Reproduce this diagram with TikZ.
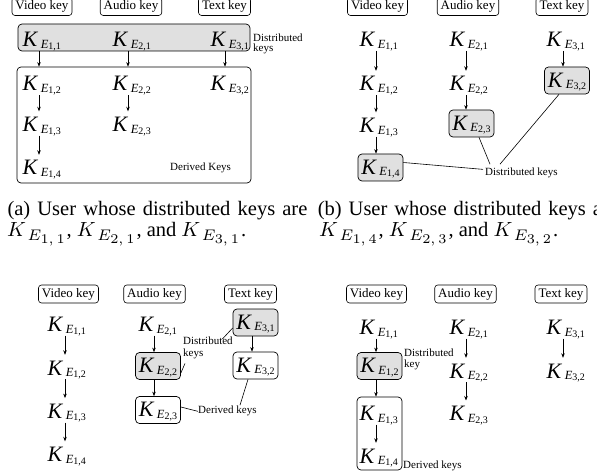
\RequirePackage{fix-cm}
\documentclass[tikz,border=0pt]{standalone}
\usepackage{graphicx}
\usepackage[no-math]{fontspec}
\setmainfont{Liberation Serif}
\usetikzlibrary{arrows.meta,calc}
\DeclareMathSizes{10}{10}{7.5}{6.5}
\definecolor{keygray}{gray}{0.88}
\newcommand{\KE}[2]{\fontsize{22}{22}\selectfont\textit{K}\kern2.5pt\raisebox{-1.6pt}{\fontsize{12.5}{12.5}\selectfont\textit{E}\raisebox{-1pt}{\fontsize{10}{10}\selectfont #1,#2}}}
\newcommand{\KM}[2]{K_{\,E_{#1,\,#2}}}
\tikzset{
 key/.style={anchor=base west, inner sep=1pt, text height=19pt, text depth=3pt},
 kbox/.style={draw, rounded corners=4pt, minimum width=45pt, minimum height=27pt, inner sep=1pt, text height=14.6pt, text depth=1pt, line width=0.7pt},
 gk/.style={kbox, fill=keygray},
 grp/.style={draw, rounded corners=4pt, line width=0.7pt, inner sep=0pt},
 lab/.style={draw, rounded corners=3pt, inner xsep=3.5pt, inner ysep=3pt, text height=9pt, text depth=3pt, font=\fontsize{13}{13}\selectfont, line width=0.6pt},
 note/.style={inner sep=0pt, font=\fontsize{11}{10.5}\selectfont, align=left},
 arr/.style={-{Stealth[length=4.5pt,width=3.5pt]}, line width=0.6pt},
 conn/.style={line width=0.6pt},
 captext/.style={anchor=base west, inner sep=0pt, font=\fontsize{10}{12}\selectfont},
}
\begin{document}
\begin{tikzpicture}[x=1pt,y=-1pt]
\useasboundingbox (0,0) rectangle (597,473);
% ---------------- (a)
\node[grp, fill=keygray, minimum width=232pt, minimum height=27pt] (ga) at (134,37.5) {};
\node[grp, minimum width=234pt, minimum height=116pt] (da) at (134,125) {};
\node[lab] (av) at (42,6.5) {Video key};
\node[lab] (aa) at (131,6.5) {Audio key};
\node[lab] (at) at (224.5,6.5) {Text key};
\node[key] (a11) at (21.5,46.7) {\KE{1}{1}};
\node[key] (a21) at (111.5,46.7) {\KE{2}{1}};
\node[key] (a31) at (209.5,46.7) {\KE{3}{1}};
\node[key] (a12) at (21.5,91) {\KE{1}{2}};
\node[key] (a22) at (111.5,91) {\KE{2}{2}};
\node[key] (a32) at (209.5,91) {\KE{3}{2}};
\node[key] (a13) at (21.5,131.5) {\KE{1}{3}};
\node[key] (a23) at (111.5,131.5) {\KE{2}{3}};
\node[key] (a14) at (21.5,175) {\KE{1}{4}};
\coordinate (ca1) at (39,0);
\coordinate (ca2) at (128,0);
\coordinate (ca3) at (225,0);
\draw[arr] (ga.south -| ca1) -- (da.north -| ca1);
\draw[arr] (ga.south -| ca2) -- (da.north -| ca2);
\draw[arr] (ga.south -| ca3) -- (da.north -| ca3);
\draw[arr] (a12.south -| ca1) -- (a13.north -| ca1);
\draw[arr] (a13.south -| ca1) -- (a14.north -| ca1);
\draw[arr] (a22.south -| ca2) -- (a23.north -| ca2);
\node[note, anchor=north west] (adist) at (253,33.5) {Distributed\\keys};
\node[note, anchor=base west] (ader) at (170,170.5) {Derived Keys};
% ---------------- (b)
\node[lab] (bv) at (377.5,6.5) {Video key};
\node[lab] (ba) at (468,6.5) {Audio key};
\node[lab] (bt) at (562,6.5) {Text key};
\node[key] (b11) at (358.5,46.7) {\KE{1}{1}};
\node[key] (b12) at (358.5,91) {\KE{1}{2}};
\node[key] (b13) at (358.5,132.5) {\KE{1}{3}};
\node[gk] (b14) at (380.5,167.5) {\KE{1}{4}};
\node[key] (b21) at (448.5,46.7) {\KE{2}{1}};
\node[key] (b22) at (448.5,91) {\KE{2}{2}};
\node[gk] (b23) at (471.5,123.5) {\KE{2}{3}};
\node[key] (b31) at (545.5,46.7) {\KE{3}{1}};
\node[gk] (b32) at (567,80.5) {\KE{3}{2}};
\coordinate (cb1) at (376,0);
\coordinate (cb2) at (466,0);
\coordinate (cb3) at (563,0);
\draw[arr] (b11.south -| cb1) -- (b12.north -| cb1);
\draw[arr] (b12.south -| cb1) -- (b13.north -| cb1);
\draw[arr] (b13.south -| cb1) -- (b14.north -| cb1);
\draw[arr] (b21.south -| cb2) -- (b22.north -| cb2);
\draw[arr] (b22.south -| cb2) -- (b23.north -| cb2);
\draw[arr] (b31.south -| cb3) -- (b32.north -| cb3);
\node[note, anchor=base west] (bdk) at (485,176) {Distributed keys};
\draw[conn] ([yshift=5pt]b14.east) -- ([xshift=-2pt,yshift=4pt]bdk.west);
\draw[conn] ([xshift=7.5pt]b23.south) -- ([xshift=5pt,yshift=4pt]bdk.north west);
\draw[conn] ([xshift=-8pt]b32.south) -- ([xshift=15pt,yshift=4pt]bdk.north west);
% ---------------- captions
\node[captext] (capa1) at (7.3,216) {\scalebox{2.05}{\makebox[146.3pt][s]{(a) User whose distributed keys are}}};
\node[captext] (capa2) at (7,236.7) {\scalebox{2.05}{$\KM{1}{1}$, $\KM{2}{1}$, and $\KM{3}{1}$.}};
\node[captext] (capb1) at (317.7,216) {\scalebox{2.05}{\makebox[146.3pt][s]{(b) User whose distributed keys are}}};
\node[captext] (capb2) at (319,236.7) {\scalebox{2.05}{$\KM{1}{4}$, $\KM{2}{3}$, and $\KM{3}{2}$.}};
% ---------------- (c)
\node[lab] (cv) at (68.5,294) {Video key};
\node[lab] (ca) at (154.5,294) {Audio key};
\node[lab] (ct) at (250.5,294) {Text key};
\node[key] (c11) at (46.5,331.5) {\KE{1}{1}};
\node[key] (c12) at (46.5,375) {\KE{1}{2}};
\node[key] (c13) at (46.5,418.3) {\KE{1}{3}};
\node[key] (c14) at (46.5,461.5) {\KE{1}{4}};
\node[key] (c21) at (137.5,331.5) {\KE{2}{1}};
\node[gk] (c22) at (158,366) {\KE{2}{2}};
\node[kbox] (c23) at (158,410) {\KE{2}{3}};
\node[gk] (c31) at (255.5,322.5) {\KE{3}{1}};
\node[kbox] (c32) at (255.5,365.5) {\KE{3}{2}};
\coordinate (cc1) at (65,0);
\coordinate (cc2) at (154,0);
\coordinate (cc3) at (252,0);
\draw[arr] (c11.south -| cc1) -- (c12.north -| cc1);
\draw[arr] (c12.south -| cc1) -- (c13.north -| cc1);
\draw[arr] (c13.south -| cc1) -- (c14.north -| cc1);
\draw[arr] (c21.south -| cc2) -- (c22.north -| cc2);
\draw[arr] (c22.south -| cc2) -- (c23.north -| cc2);
\draw[arr] (c31.south -| cc3) -- (c32.north -| cc3);
\node[note, anchor=north west, font=\fontsize{11}{12.5}\selectfont] (cdist) at (183,336.5) {Distributed\\keys};
\node[note, anchor=base west] (cder) at (198,413) {Derived keys};
\draw[conn] ([yshift=-5.5pt]c31.west) -- ([xshift=-10.5pt,yshift=-2.5pt]cdist.north east);
\draw[conn] ([yshift=-7pt]c22.east) -- ([xshift=2pt,yshift=-4pt]cdist.south west);
\draw[conn] ([yshift=3pt]c23.east) -- ([yshift=-1pt]cder.west);
\draw[conn] ([xshift=-7.5pt]c32.south) -- ([xshift=42pt]cder.north west);
% ---------------- (d)
\node[lab] (dv) at (376.5,294) {Video key};
\node[lab] (da2) at (465.5,294) {Audio key};
\node[lab] (dt) at (561,294) {Text key};
\node[key] (d11) at (358.5,334.5) {\KE{1}{1}};
\node[gk] (d12) at (379.5,366) {\KE{1}{2}};
\node[grp, minimum width=45pt, minimum height=73pt] (dg) at (379.5,433.5) {};
\node[key] (d13) at (358.5,420.5) {\KE{1}{3}};
\node[key] (d14) at (358.5,463) {\KE{1}{4}};
\node[key] (d21) at (448.5,334.5) {\KE{2}{1}};
\node[key] (d22) at (448.5,378) {\KE{2}{2}};
\node[key] (d23) at (448.5,420.7) {\KE{2}{3}};
\node[key] (d31) at (545.5,334.5) {\KE{3}{1}};
\node[key] (d32) at (545.5,378) {\KE{3}{2}};
\coordinate (cd1) at (376,0);
\coordinate (cd2) at (466,0);
\coordinate (cd3) at (563,0);
\draw[arr] (d11.south -| cd1) -- (d12.north -| cd1);
\draw[arr] (d12.south -| cd1) -- (dg.north -| cd1);
\draw[arr] (d13.south -| cd1) -- (d14.north -| cd1);
\draw[arr] (d21.south -| cd2) -- (d22.north -| cd2);
\draw[arr] (d22.south -| cd2) -- (d23.north -| cd2);
\draw[arr] (d31.south -| cd3) -- (d32.north -| cd3);
\node[note, anchor=north west, font=\fontsize{11}{11}\selectfont] (ddist) at (404,349) {Distributed\\key};
\node[note, anchor=base west] (dder) at (403,468) {Derived keys};
\end{tikzpicture}
\end{document}
